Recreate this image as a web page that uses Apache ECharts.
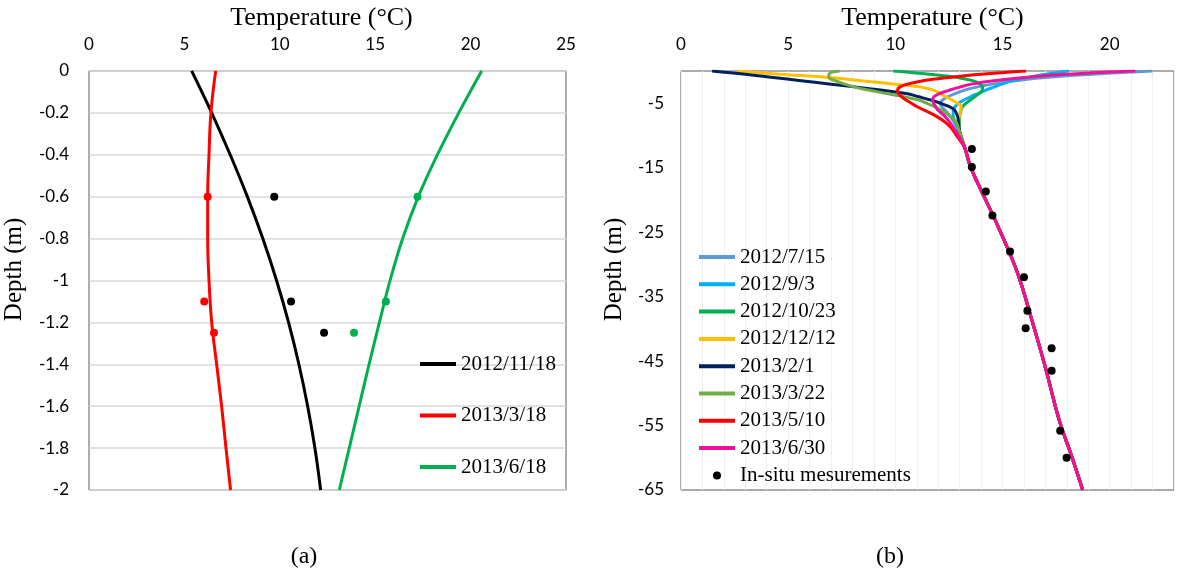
<!DOCTYPE html>
<html>
<head>
<meta charset="utf-8">
<title>Temperature profiles</title>
<script src="https://cdn.jsdelivr.net/npm/echarts@6/dist/echarts.min.js"></script>
<style>
  html, body { margin: 0; padding: 0; background: #fff; }
  #chart { width: 1177px; height: 576px; }
</style>
</head>
<body>
<div id="chart"></div>
<script>
// (a) shallow profiles, depth in m
var leftDepth = [0, -0.2, -0.4, -0.6, -0.8, -1.0, -1.2, -1.4, -1.6, -1.8, -2.0];
var nov18Temp = [5.38, 6.43, 7.40, 8.30, 9.11, 9.83, 10.46, 11.0, 11.46, 11.84, 12.14];
var mar18Temp = [6.64, 6.39, 6.29, 6.22, 6.22, 6.29, 6.43, 6.69, 6.95, 7.18, 7.42];
var jun18Temp = [20.58, 19.38, 18.26, 17.26, 16.44, 15.78, 15.22, 14.68, 14.16, 13.64, 13.12];

// measured points (a)
var obsDepth = [-0.6, -1.1, -1.25];
var nov18Obs = [9.71, 10.59, 12.32];
var mar18Obs = [6.22, 6.04, 6.55];
var jun18Obs = [17.22, 15.56, 13.89];

// (b) deep profiles
var rightDepth = [0, -0.5, -1, -1.5, -2, -2.5, -3, -3.5, -4, -4.5, -5, -5.5, -6, -7, -8, -9, -10,
  -12, -15, -22, -28, -32, -39, -46, -54, -60, -65];
var deepTail = [13.25, 13.52, 14.5, 15.3, 15.77, 16.4, 17.0, 17.63, 18.25, 18.74];
var t20120715 = [22.0, 19.2, 17.0, 15.6, 14.6, 13.8, 13.2, 12.8, 12.45, 12.2, 12.1, 12.15, 12.3, 12.55, 12.75, 12.9, 13.05];
var t20120903 = [18.1, 17.0, 16.2, 15.5, 15.0, 14.6, 14.2, 13.85, 13.5, 13.2, 12.95, 12.8, 12.7, 12.7, 12.8, 12.95, 13.05];
var t20121023 = [9.9, 11.6, 12.9, 13.6, 13.95, 14.07, 14.05, 13.9, 13.7, 13.5, 13.3, 13.15, 13.07, 13.0, 12.98, 12.98, 13.05];
var t20121212 = [2.6, 4.6, 6.9, 8.4, 9.9, 11.2, 11.8, 12.1, 12.35, 12.65, 12.9, 13.08, 13.05, 12.98, 12.95, 12.97, 13.05];
var t20130201 = [1.45, 3.0, 4.3, 5.6, 6.9, 8.2, 9.4, 10.5, 11.1, 11.65, 12.1, 12.5, 12.75, 12.9, 12.95, 12.98, 13.05];
var t20130322 = [7.4, 6.9, 6.9, 7.2, 7.6, 8.1, 8.8, 9.6, 10.4, 11.1, 11.45, 11.8, 12.1, 12.55, 12.85, 12.95, 13.05];
var t20130510 = [16.1, 14.0, 12.5, 11.3, 10.6, 10.2, 10.1, 10.15, 10.3, 10.5, 10.75, 11.0, 11.3, 11.9, 12.35, 12.65, 12.85];
var t20130630 = [21.2, 18.0, 16.0, 14.6, 13.6, 13.0, 12.5, 12.05, 11.8, 11.74, 11.78, 11.88, 11.97, 12.3, 12.55, 12.75, 12.95];

// in-situ measurements (b)
var insituTemp = [13.57, 13.57, 14.22, 14.53, 15.35, 16.0, 16.16, 16.08, 17.29, 17.29, 17.69, 17.99];
var insituDepth = [-12.1, -14.9, -18.7, -22.4, -28.0, -32.0, -37.2, -39.9, -43.0, -46.5, -55.8, -60.0];

var leftNames = ['2012/11/18', '2013/3/18', '2013/6/18'];
var rightNames = ['2012/7/15', '2012/9/3', '2012/10/23', '2012/12/12', '2013/2/1', '2013/3/22', '2013/5/10', '2013/6/30'];
var rightColors = ['#5B9BD5', '#00B0F0', '#00B050', '#FFC000', '#002060', '#70AD47', '#FF0000', '#F0119B'];
var rightDepthLabels = [-5, -15, -25, -35, -45, -55, -65];

var serif = '"Liberation Serif", "Times New Roman", serif';
var sans = 'Lato, "Noto Sans", sans-serif';

function pairs(xs, ys) {
  var out = [];
  for (var i = 0; i < xs.length; i++) {
    out.push([xs[i], ys[i]]);
  }
  return out;
}

function profileLine(name, color, temps, depths, axisIdx) {
  return {
    name: name,
    type: 'line',
    xAxisIndex: axisIdx,
    yAxisIndex: axisIdx,
    smooth: 0.4,
    symbol: 'none',
    lineStyle: { color: color, width: 3 },
    itemStyle: { color: color },
    data: pairs(temps, depths),
    z: 3
  };
}

function obsPoints(name, color, temps, depths, axisIdx) {
  return {
    name: name,
    type: 'scatter',
    xAxisIndex: axisIdx,
    yAxisIndex: axisIdx,
    symbol: 'circle',
    symbolSize: 8,
    itemStyle: { color: color, opacity: 1 },
    data: pairs(temps, depths),
    z: 5
  };
}

var series = [
  profileLine(leftNames[0], '#000000', nov18Temp, leftDepth, 0),
  profileLine(leftNames[1], '#FF0000', mar18Temp, leftDepth, 0),
  profileLine(leftNames[2], '#00B050', jun18Temp, leftDepth, 0),
  obsPoints('obs 2012/11/18', '#000000', nov18Obs, obsDepth, 0),
  obsPoints('obs 2013/3/18', '#FF0000', mar18Obs, obsDepth, 0),
  obsPoints('obs 2013/6/18', '#00B050', jun18Obs, obsDepth, 0)
];

var rightTemps = [t20120715, t20120903, t20121023, t20121212, t20130201, t20130322, t20130510, t20130630];
for (var k = 0; k < rightNames.length; k++) {
  series.push(profileLine(rightNames[k], rightColors[k], rightTemps[k].concat(deepTail), rightDepth, 1));
}
series.push(obsPoints('In-situ mesurements', '#000000', insituTemp, insituDepth, 1));

// legend entries: line only, no marker (the symbol is made invisible)
var legendText = { fontFamily: serif, fontSize: 21, color: '#000', lineHeight: 24 };
var rightLegendData = rightNames.slice();
rightLegendData.push({ name: 'In-situ mesurements', icon: 'circle', itemStyle: { opacity: 1 } });

var tempTitle = { fontFamily: serif, fontSize: 26, color: '#000' };
var depthTitle = { fontFamily: serif, fontSize: 25, color: '#000', padding: [0, 0, 0, 22] };

var chart = echarts.init(document.getElementById('chart'));

var option = {
  animation: false,
  backgroundColor: '#ffffff',
  title: [
    { text: '(a)', left: 299, top: 540, textAlign: 'center',
      textStyle: { fontFamily: serif, fontSize: 24, fontWeight: 'normal', color: '#000' } },
    { text: '(b)', left: 885, top: 540, textAlign: 'center',
      textStyle: { fontFamily: serif, fontSize: 24, fontWeight: 'normal', color: '#000' } }
  ],
  grid: [
    { left: 89, right: 611, top: 70, bottom: 86, show: true, borderColor: '#595959', borderWidth: 1 },
    { left: 681, right: 2, top: 71, bottom: 86, show: true, borderColor: '#595959', borderWidth: 1 }
  ],
  legend: [
    {
      data: leftNames,
      orient: 'vertical',
      left: 418,
      top: 352,
      padding: 0,
      itemWidth: 36,
      itemHeight: 8,
      itemGap: 27.5,
      itemStyle: { opacity: 0 },
      lineStyle: { width: 4 },
      textStyle: legendText
    },
    {
      data: rightLegendData,
      orient: 'vertical',
      left: 697,
      top: 245,
      padding: 0,
      itemWidth: 36,
      itemHeight: 8,
      itemGap: 3.3,
      itemStyle: { opacity: 0 },
      lineStyle: { width: 4 },
      textStyle: legendText
    }
  ],
  xAxis: [
    {
      type: 'value',
      gridIndex: 0,
      position: 'top',
      min: 0,
      max: 25,
      interval: 5,
      name: 'Temperature (°C)',
      nameLocation: 'middle',
      nameGap: 37,
      nameTextStyle: Object.assign({ padding: [0, 12, 0, 0] }, tempTitle),
      axisLine: { show: false },
      axisTick: { show: false },
      axisLabel: { fontFamily: sans, fontSize: 17, color: '#000', margin: 18 },
      splitLine: { show: false }
    },
    {
      type: 'value',
      gridIndex: 1,
      position: 'top',
      min: 0,
      max: 23,
      interval: 1,
      name: 'Temperature (°C)',
      nameLocation: 'middle',
      nameGap: 38,
      nameTextStyle: Object.assign({ padding: [0, 0, 0, 10] }, tempTitle),
      axisLine: { show: false },
      axisTick: { show: false },
      axisLabel: {
        fontFamily: sans, fontSize: 17, color: '#000', margin: 18,
        formatter: function (v) { return v % 5 === 0 && v <= 20 ? String(v) : ''; }
      },
      splitLine: { show: true, lineStyle: { color: '#EFEFEF', width: 1 } }
    }
  ],
  yAxis: [
    {
      type: 'value',
      gridIndex: 0,
      min: -2,
      max: 0,
      interval: 0.2,
      name: 'Depth (m)',
      nameLocation: 'middle',
      nameGap: 62,
      nameTextStyle: depthTitle,
      axisLine: { show: false },
      axisTick: { show: false },
      axisLabel: {
        fontFamily: sans, fontSize: 17, color: '#000', margin: 20,
        formatter: function (v) { return String(Math.round(v * 10) / 10); }
      },
      splitLine: { show: true, lineStyle: { color: '#D9D9D9', width: 1.5 } }
    },
    {
      type: 'value',
      gridIndex: 1,
      min: -65,
      max: 0,
      name: 'Depth (m)',
      nameLocation: 'middle',
      nameGap: 54,
      nameTextStyle: depthTitle,
      axisLine: { show: false },
      axisTick: { show: false },
      axisLabel: {
        fontFamily: sans, fontSize: 17, color: '#000', margin: 17,
        customValues: rightDepthLabels
      },
      splitLine: { show: false }
    }
  ],
  series: series
};

chart.setOption(option);
</script>
</body>
</html>
